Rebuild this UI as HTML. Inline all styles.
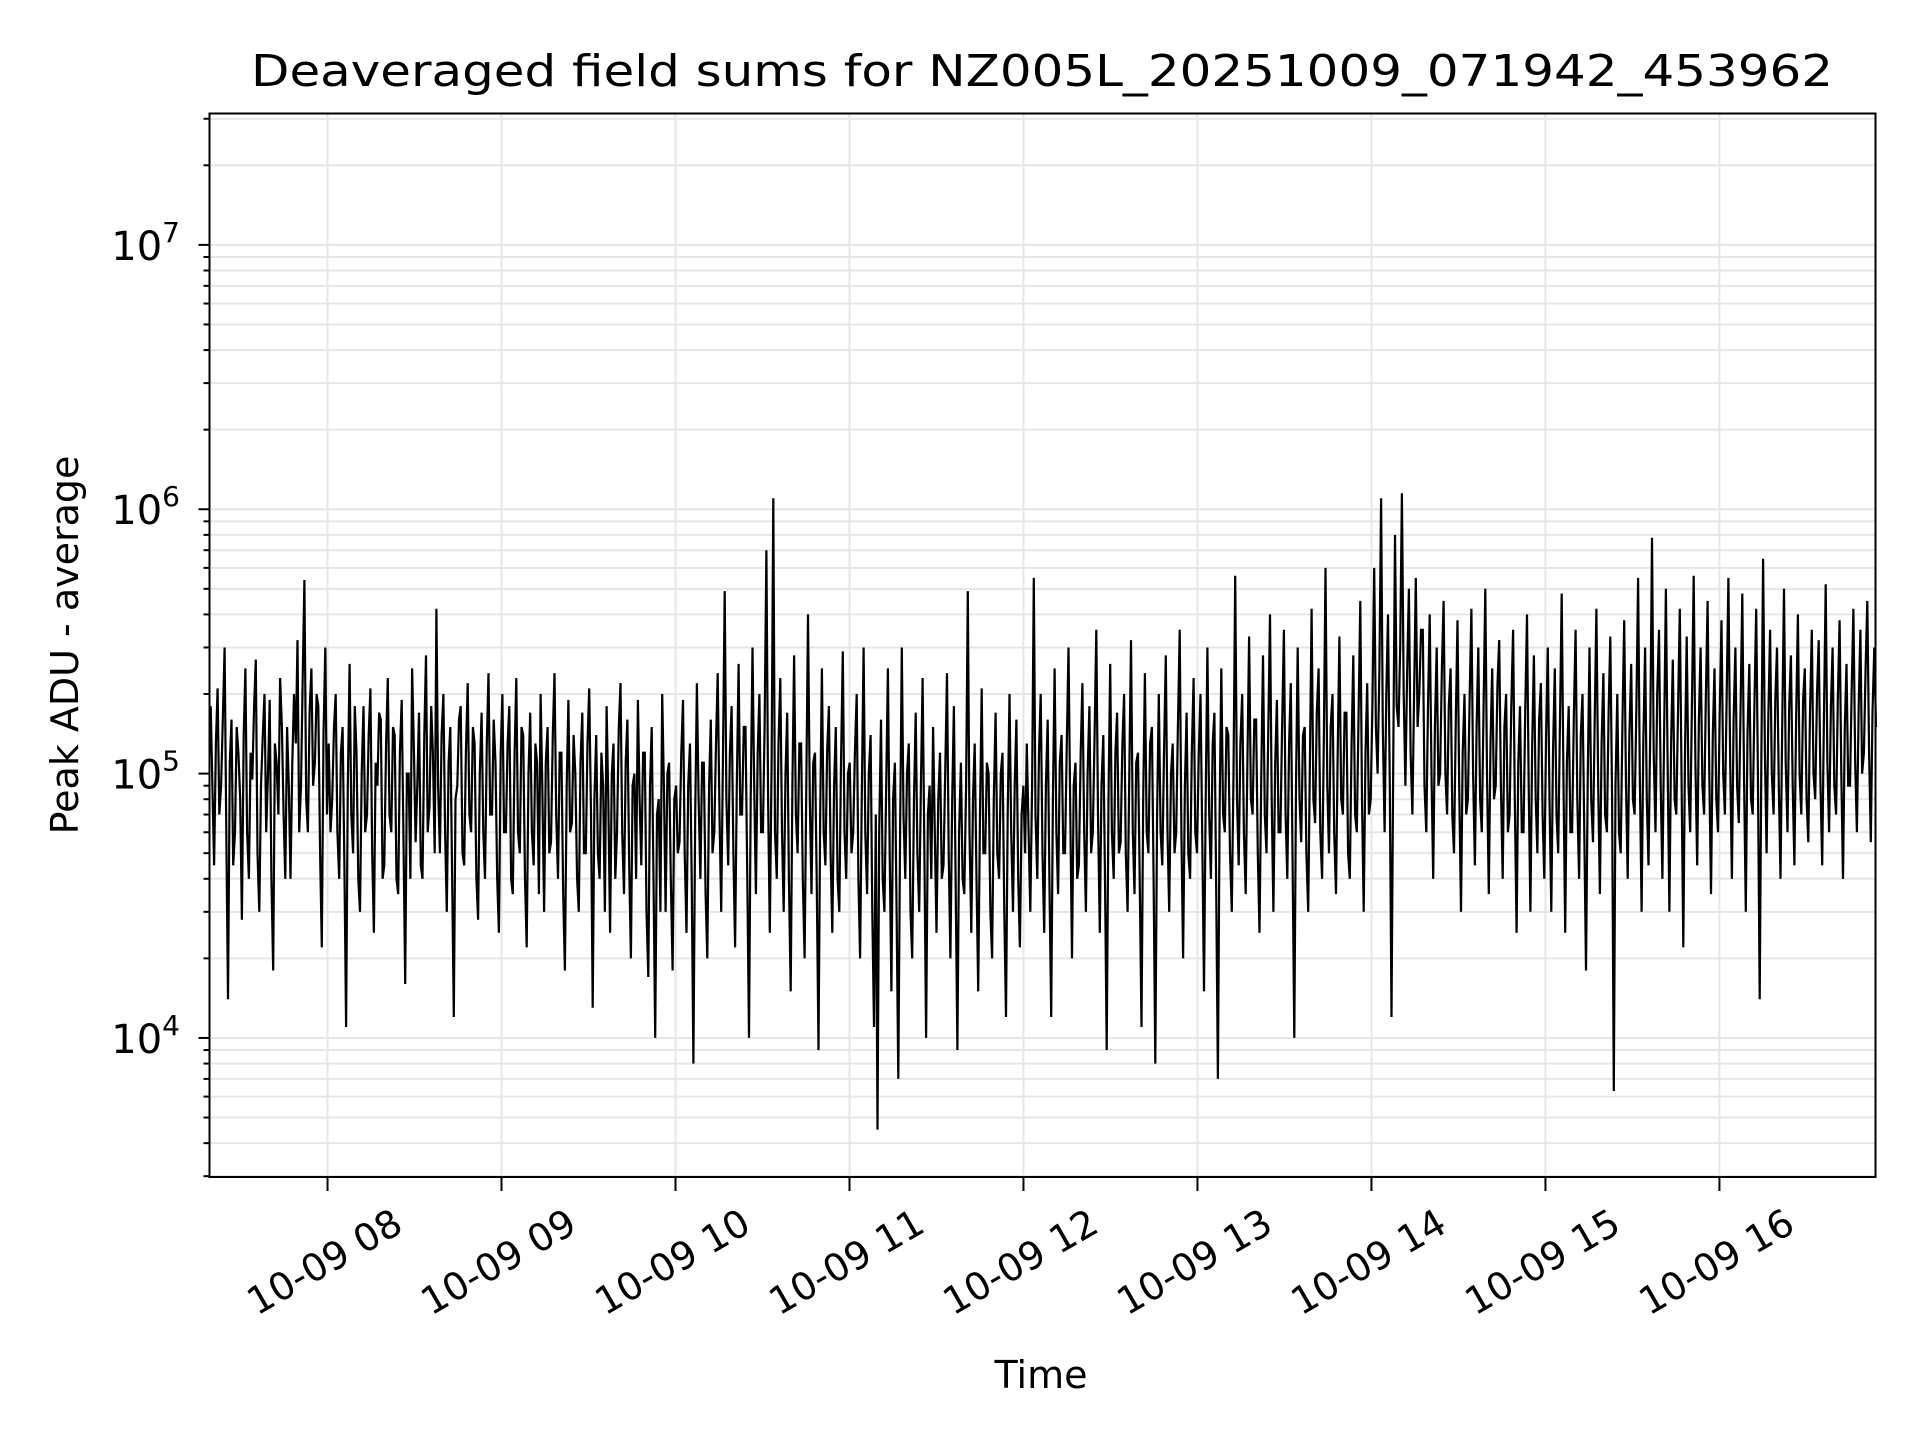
<!DOCTYPE html>
<html><head><meta charset="utf-8"><style>
html,body{margin:0;padding:0;background:#fff;}
svg{display:block;font-family:"DejaVu Sans","Liberation Sans",sans-serif;}
</style></head><body>
<svg id="chart" width="1920" height="1440" viewBox="0 0 1920 1440" xmlns="http://www.w3.org/2000/svg">
<rect width="1920" height="1440" fill="#fff"/>
<g id="grid"></g>
<g id="series"></g>
<rect x="209.5" y="113.5" width="1666" height="1063.5" fill="none" stroke="#000" stroke-width="2"/>
<g id="axes"></g>
<text x="1042" y="86" text-anchor="middle" font-size="44" textLength="1582" lengthAdjust="spacingAndGlyphs">Deaveraged field sums for NZ005L_20251009_071942_453962</text>
<text x="1041" y="1388" text-anchor="middle" font-size="38">Time</text>
<text transform="translate(78,645) rotate(-90)" text-anchor="middle" font-size="38">Peak ADU - average</text>
</svg>
<script>
const xTickHours = [8,9,10,11,12,13,14,15,16];
const xTickLabels = ["10-09 08","10-09 09","10-09 10","10-09 11","10-09 12","10-09 13","10-09 14","10-09 15","10-09 16"];
const yMajorExps = [4,5,6,7];
const yMajorLabels = ["4","5","6","7"];
const startHour = 7 + 19.7/60;
const endHour = 16.9;
const valuesK = [
180,90,45,130,210,70,90,160,300,60,14,110,160,45,60,150,120,80,28,140,250,60,40,120,95,180,270,50,30,90,140,200,60,100,190,40,18,130,110,70,230,150,70,40,150,90,40,110,200,130,320,60,90,230,540,80,60,170,250,90,110,200,180,50,22,140,300,70,130,60,
80,150,200,60,40,120,150,45,11,90,260,70,50,180,120,40,30,100,180,60,70,140,210,50,25,110,90,170,160,40,45,130,230,70,60,150,140,40,35,120,190,60,16,100,100,40,250,130,55,90,170,45,40,140,280,60,75,180,120,50,420,90,50,140,200,60,30,110,150,45,12,80,90,160,180,50,45,120,220,70,60,150,130,40,28,100,170,60,40,130,240,70,70,160,110,40,25,120,200,60,
60,130,180,40,35,120,230,60,50,150,140,40,22,100,170,60,45,130,110,35,200,90,30,110,150,50,55,140,240,70,40,120,120,35,18,90,190,60,65,140,100,40,30,110,170,50,50,130,210,70,13,80,140,50,40,120,90,30,180,80,25,100,130,40,60,150,220,60,35,110,160,45,20,90,100,40,190,80,45,120,120,30,17,90,150,40,10,70,80,30,200,90,30,100,110,40,18,80,90,50,
55,120,190,50,25,90,130,40,8,70,220,80,40,110,110,35,20,90,160,50,60,130,240,70,30,110,490,80,45,120,180,50,22,90,260,70,70,150,150,40,10,80,300,90,35,120,200,60,60,150,700,80,25,110,1100,60,40,130,230,60,30,100,170,40,15,90,280,70,50,130,130,40,20,90,400,80,35,110,120,40,9,70,250,60,45,120,180,50,25,90,150,40,30,110,290,60,40,100,110,50,
60,120,200,40,20,90,300,60,35,100,140,30,11,70,4.5,60,160,40,30,90,250,50,15,80,110,30,7,60,300,70,40,100,130,30,20,80,170,50,30,90,230,50,10,70,90,40,150,60,25,80,120,40,45,100,240,50,20,80,180,40,9,60,110,40,35,90,490,60,25,80,130,40,15,70,210,50,50,110,100,30,20,80,170,50,40,100,120,30,12,70,200,60,30,90,160,40,22,70,90,50,
130,60,30,90,550,70,40,120,200,50,25,90,160,40,12,80,250,60,35,110,140,50,50,130,300,70,20,90,110,40,45,120,220,60,30,100,180,50,60,140,350,70,25,90,140,40,9,80,260,60,40,120,170,50,55,130,200,50,30,100,320,60,35,110,120,40,11,80,240,60,50,130,150,40,8,70,200,60,45,120,280,60,30,100,130,50,60,150,350,60,20,90,170,50,40,120,230,60,50,120,
200,60,15,80,300,70,40,130,170,40,7,70,250,70,60,150,140,50,30,100,560,80,45,130,200,60,35,110,330,80,70,160,160,50,25,100,280,70,50,140,400,80,30,110,190,60,60,150,350,70,40,130,220,50,10,90,300,80,55,140,150,50,30,110,420,80,65,170,250,60,40,130,600,90,50,150,200,60,35,120,330,80,70,170,170,50,40,130,280,70,60,160,450,80,30,120,220,70,80,180,
600,150,100,250,1100,150,60,200,400,90,12,120,800,180,150,300,1150,200,90,250,500,120,70,200,550,150,200,350,350,90,60,180,400,100,40,150,300,90,100,250,450,100,70,180,250,70,50,160,380,90,30,120,200,70,80,200,420,100,45,150,300,80,60,180,500,100,35,130,250,80,90,220,320,90,40,150,200,60,70,180,350,80,25,110,180,60,60,170,400,90,30,130,280,80,50,160,220,70,40,140,
300,80,30,120,250,70,50,160,480,100,25,110,180,60,60,170,350,80,40,140,200,60,18,100,300,80,55,160,420,90,35,130,240,70,60,170,330,80,6.3,90,200,60,50,160,380,90,40,140,260,80,70,180,550,100,30,130,300,80,45,150,780,120,60,200,350,90,40,150,500,110,30,130,270,80,70,180,420,100,22,120,330,90,60,180,560,110,45,160,300,90,70,190,450,100,35,140,250,80,60,170,
380,100,70,200,550,110,40,160,300,90,65,180,480,100,30,140,260,80,70,190,420,100,14,120,650,120,50,170,350,100,70,190,300,90,40,150,500,110,60,180,280,90,45,160,400,100,70,190,250,80,55,170,350,100,80,200,320,90,45,160,520,110,60,180,300,90,70,190,380,100,40,150,260,90,90,210,420,110,60,180,350,100,120,250,450,120,55,170,300,150
];

const NS = "http://www.w3.org/2000/svg";
const L = 209.5, R = 1875.5, T = 113.5, B = 1177;
const xMin = 7 + 19.3/60, xMax = 16.897;
const yLogMin = 3.474, yLogMax = 7.497;
function xScale(h){ return L + (h - xMin) / (xMax - xMin) * (R - L); }
function yScale(v){ return B - (Math.log10(v) - yLogMin) / (yLogMax - yLogMin) * (B - T); }
function mk(tag, attrs, parent){ const e = document.createElementNS(NS, tag); for (const k in attrs) e.setAttribute(k, attrs[k]); parent.appendChild(e); return e; }

const grid = document.getElementById('grid');
const axes = document.getElementById('axes');
const series = document.getElementById('series');

for (let e = 3; e <= 7; e++) {
  for (let m = 1; m <= 9; m++) {
    const v = m * Math.pow(10, e);
    const lv = Math.log10(v);
    if (lv < yLogMin || lv > yLogMax) continue;
    const y = yScale(v);
    const gl = mk('line', {x1:L, x2:R, y1:y, y2:y, stroke:'#e6e6e6', 'stroke-width':2}, grid);
    
    
    const tk = mk('line', {x1:L - (m === 1 ? 11 : 6), x2:L, y1:y, y2:y, stroke:'#000', 'stroke-width':2}, axes);
    
    
  }
}
yMajorExps.forEach((e, i) => {
  const y = yScale(Math.pow(10, e));
  const t = mk('text', {x:180, y:y + 15, 'text-anchor':'end', 'font-size':40}, axes);
  
  
  const a = document.createElementNS(NS, 'tspan'); a.textContent = '10'; t.appendChild(a);
  const b = document.createElementNS(NS, 'tspan'); b.setAttribute('dy', '-18'); b.setAttribute('font-size', '28'); b.textContent = yMajorLabels[i]; t.appendChild(b);
});

xTickHours.forEach((h, i) => {
  const x = xScale(h);
  const gl = mk('line', {x1:x, x2:x, y1:T, y2:B, stroke:'#e6e6e6', 'stroke-width':2}, grid);
  
  
  const tk = mk('line', {x1:x, x2:x, y1:B, y2:B + 14, stroke:'#000', 'stroke-width':2}, axes);
  
  
  const t = mk('text', {x:0, y:0, 'text-anchor':'middle', 'dominant-baseline':'central', 'font-size':38, transform:`translate(${x - 3},${1262}) rotate(-30)`}, axes);
  
  
  t.textContent = xTickLabels[i];
});

const n = valuesK.length;
const pts = valuesK.map((v, i) => {
  const h = startHour + i * (endHour - startHour) / (n - 1);
  return xScale(h).toFixed(1) + ',' + yScale(v * 1000).toFixed(1);
}).join(' ');
const pl = mk('polyline', {points:pts, fill:'none', stroke:'#000', 'stroke-width':2.2, 'stroke-linejoin':'miter', 'stroke-miterlimit':2}, series);


</script>
</body></html>
